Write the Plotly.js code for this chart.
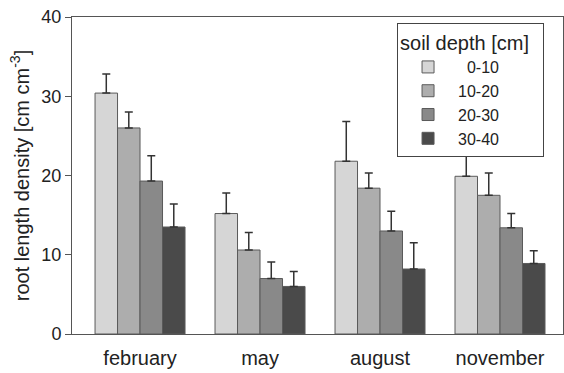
<!DOCTYPE html>
<html>
<head>
<meta charset="utf-8">
<script src="https://cdn.plot.ly/plotly-3.0.1.min.js"></script>
<style>html,body{margin:0;padding:0;background:#fff;}#chart{width:564px;height:373px;}</style>
</head>
<body>
<div id="chart"></div>
<script>
const months = ["february", "may", "august", "november"];
const depthNames = ["0-10", "10-20", "20-30", "30-40"];
const depth0_10 = [30.4, 15.2, 21.8, 19.9];
const depth10_20 = [26.0, 10.6, 18.4, 17.5];
const depth20_30 = [19.3, 7.0, 13.0, 13.4];
const depth30_40 = [13.5, 6.0, 8.2, 8.9];
const err0_10 = [2.4, 2.6, 5.0, 3.6];
const err10_20 = [2.0, 2.2, 1.9, 2.8];
const err20_30 = [3.2, 2.1, 2.5, 1.8];
const err30_40 = [2.9, 1.9, 3.3, 1.6];

const series = [depth0_10, depth10_20, depth20_30, depth30_40];
const errs = [err0_10, err10_20, err20_30, err30_40];
const colors = ["#d6d6d6", "#adadad", "#898989", "#4a4a4a"];
const labels = depthNames.map(n => n.length < 5 ? "\u00a0\u00a0" + n : n);

const traces = series.map((vals, i) => ({
  type: "bar",
  name: labels[i],
  x: months,
  y: vals,
  marker: {color: colors[i], line: {color: "#5a5a5a", width: 1}},
  error_y: {type: "data", symmetric: false, array: errs[i], arrayminus: errs[i].map(() => 0),
            color: "#333", thickness: 1.5, width: 4}
}));

const layout = {
  width: 564, height: 373,
  margin: {l: 72, r: 1, t: 17, b: 39},
  paper_bgcolor: "#fff", plot_bgcolor: "#fff",
  barmode: "group", bargap: 0.25, bargroupgap: 0,
  font: {family: "Liberation Sans, Arial, sans-serif", color: "#222"},
  xaxis: {
    range: [-0.567, 3.525], showline: true, linecolor: "#555", linewidth: 1, mirror: true,
    ticks: "", tickfont: {size: 20}, ticklabelstandoff: 6, showgrid: false, zeroline: false
  },
  yaxis: {
    range: [0, 40], dtick: 10, showline: true, linecolor: "#555", linewidth: 1, mirror: true,
    ticks: "outside", ticklen: 6, tickcolor: "#555", tickfont: {size: 18},
    showgrid: false, zeroline: false,
    title: {text: "root length density [cm cm<sup>-3</sup>]", font: {size: 20}, standoff: 6}
  },
  showlegend: true,
  legend: {
    x: 0.662, y: 0.981, xanchor: "left", yanchor: "top",
    bordercolor: "#444", borderwidth: 1, bgcolor: "#fff",
    font: {size: 16}, tracegroupgap: 0, itemwidth: 50,
    title: {text: "soil depth [cm]\u00a0\u00a0", font: {size: 20}, side: "top"}
  }
};
Plotly.newPlot("chart", traces, layout, {displayModeBar: false, staticPlot: true});
</script>
</body>
</html>
